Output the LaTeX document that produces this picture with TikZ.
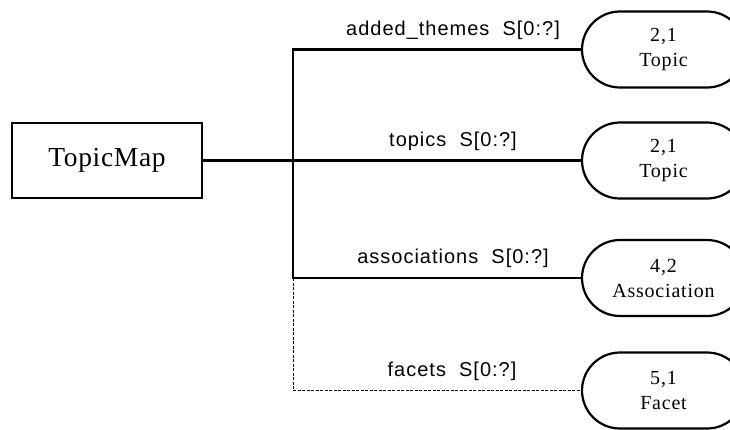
\documentclass[tikz,border=0pt]{standalone}
\usepackage{fontspec}
\setmainfont{Liberation Serif}
\setsansfont{Liberation Sans}
\usetikzlibrary{shapes.misc}
\newfontfamily\lblfont[LetterSpace=5]{Liberation Sans}
\newfontfamily\ovfont[LetterSpace=4]{Liberation Serif}
\newfontfamily\boxfont[LetterSpace=2.5]{Liberation Serif}
\begin{document}
\begin{tikzpicture}[x=1pt,y=-1pt,
  conn/.style={line width=2.2pt},
  classbox/.style={draw,line width=2.2pt,minimum width=190pt,minimum height=75pt,inner sep=0pt,font=\boxfont\fontsize{27.5}{30}\selectfont},
  oval/.style={rounded rectangle,draw,line width=2.2pt,minimum width=163pt,minimum height=76pt,inner sep=0pt,align=center,font=\ovfont\fontsize{20}{25}\selectfont},
  lbl/.style={anchor=base,inner sep=0pt,font=\lblfont\fontsize{20}{22}\selectfont},
  thindash/.style={line width=0.8pt,dash pattern=on 3pt off 1.5pt}]
\useasboundingbox (0,0) rectangle (730,429);
\node[classbox] (tm) at (107,160.5) {TopicMap};
\node[oval] (o1) at (663.5,49.5) {2,1\\Topic};
\node[oval] (o2) at (663.5,160.5) {2,1\\Topic};
\node[oval] (o3) at (663.5,278) {4,2\\Association};
\node[oval] (o4) at (663.5,390.5) {5,1\\Facet};
\coordinate (j1) at (293,49.5);
\coordinate (j3) at (293,278);
\coordinate (j4) at (293,390.5);
\draw[conn] (tm.east) -- (o2.west);
\draw[conn] (o1.west) -- (j1) -- (j3) -- (o3.west);
\draw[thindash] (j3) -- (j4) -- (o4.west);
\node[lbl] (l1) at (453,35.5) {added\_themes\ \ S[0:?]};
\node[lbl] (l2) at (453,146.5) {topics\ \ S[0:?]};
\node[lbl] (l3) at (453,263.5) {associations\ \ S[0:?]};
\node[lbl] (l4) at (452,376.5) {facets\ \ S[0:?]};
\end{tikzpicture}
\end{document}
